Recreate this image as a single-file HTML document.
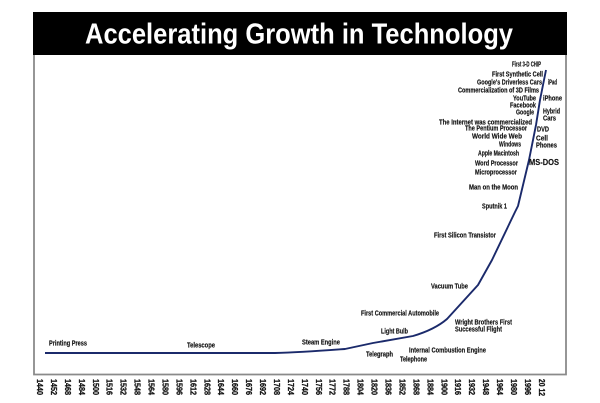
<!DOCTYPE html>
<html>
<head>
<meta charset="utf-8">
<style>
html,body{margin:0;padding:0;background:#fff;}
svg{display:block;}
text{font-family:"Liberation Sans",sans-serif;}
.l{font-size:7px;font-weight:bold;fill:#111;stroke:#111;stroke-width:0.15;}
.t{font-size:8.5px;font-weight:bold;fill:#111;stroke:#111;stroke-width:0.3;}
</style>
</head>
<body>
<svg width="600" height="403" viewBox="0 0 600 403" xmlns="http://www.w3.org/2000/svg">
<rect x="0" y="0" width="600" height="403" fill="#fff"/>
<!-- title bar -->
<rect x="33" y="12" width="534" height="43" fill="#000"/>
<text x="85" y="43.5" font-size="29" font-weight="bold" fill="#fff" textLength="428" lengthAdjust="spacingAndGlyphs">Accelerating Growth in Technology</text>
<!-- frame -->
<path d="M34,55 L34,374.5 L566,374.5 L566,55" fill="none" stroke="#8a8a8a" stroke-width="1.8"/>
<!-- curve -->
<path d="M45,353 L275,353 C300,352.5 325,350.5 345,349 L373,343 L413,336 C430,331 440,325 447,319 L478,285 L492,260 L515,212 L518,206 L529,160 L536,125 L540,100 L546,70" fill="none" stroke="#1b2a6b" stroke-width="1.9" stroke-linejoin="round"/>
<!-- labels -->
<g class="l">
<text x="49" y="345.5" textLength="38" lengthAdjust="spacingAndGlyphs">Printing Press</text>
<text x="187" y="347.5" textLength="28" lengthAdjust="spacingAndGlyphs">Telescope</text>
<text x="302" y="344.5" textLength="38" lengthAdjust="spacingAndGlyphs">Steam Engine</text>
<text x="366" y="356.5" textLength="27" lengthAdjust="spacingAndGlyphs">Telegraph</text>
<text x="400" y="361.5" textLength="27" lengthAdjust="spacingAndGlyphs">Telephone</text>
<text x="409" y="352.5" textLength="77" lengthAdjust="spacingAndGlyphs">Internal Combustion Engine</text>
<text x="381" y="333.5" textLength="27" lengthAdjust="spacingAndGlyphs">Light Bulb</text>
<text x="361" y="315.5" textLength="78" lengthAdjust="spacingAndGlyphs">First Commercial Automobile</text>
<text x="455" y="324.5" textLength="57" lengthAdjust="spacingAndGlyphs">Wright Brothers First</text>
<text x="455" y="331.5" textLength="47" lengthAdjust="spacingAndGlyphs">Successful Flight</text>
<text x="431" y="288.5" textLength="37" lengthAdjust="spacingAndGlyphs">Vacuum Tube</text>
<text x="434" y="237.5" textLength="62" lengthAdjust="spacingAndGlyphs">First Silicon Transistor</text>
<text x="482" y="208.5" textLength="25" lengthAdjust="spacingAndGlyphs">Sputnik 1</text>
<text x="469" y="189.5" textLength="49" lengthAdjust="spacingAndGlyphs">Man on the Moon</text>
<text x="475" y="174.5" textLength="42" lengthAdjust="spacingAndGlyphs">Microprocessor</text>
<text x="475" y="165.5" textLength="43" lengthAdjust="spacingAndGlyphs">Word Processor</text>
<text x="529" y="165" font-size="8.5" textLength="30" lengthAdjust="spacingAndGlyphs">MS-DOS</text>
<text x="478" y="155.5" textLength="41" lengthAdjust="spacingAndGlyphs">Apple Macintosh</text>
<text x="499" y="146.5" textLength="22" lengthAdjust="spacingAndGlyphs">Windows</text>
<text x="536" y="140.5" textLength="12" lengthAdjust="spacingAndGlyphs">Cell</text>
<text x="536" y="147.5" textLength="21" lengthAdjust="spacingAndGlyphs">Phones</text>
<text x="472" y="138.5" textLength="50" lengthAdjust="spacingAndGlyphs">World Wide Web</text>
<text x="465" y="130.5" textLength="62" lengthAdjust="spacingAndGlyphs">The Pentium Processor</text>
<text x="537" y="131.5" textLength="12" lengthAdjust="spacingAndGlyphs">DVD</text>
<text x="439" y="124.5" textLength="93" lengthAdjust="spacingAndGlyphs">The Internet was commercialized</text>
<text x="516" y="114.5" textLength="18" lengthAdjust="spacingAndGlyphs">Google</text>
<text x="543" y="113.5" textLength="17" lengthAdjust="spacingAndGlyphs">Hybrid</text>
<text x="543" y="120.5" textLength="13" lengthAdjust="spacingAndGlyphs">Cars</text>
<text x="510" y="107.5" textLength="26" lengthAdjust="spacingAndGlyphs">Facebook</text>
<text x="513" y="100.5" textLength="23" lengthAdjust="spacingAndGlyphs">YouTube</text>
<text x="543" y="100.5" textLength="19" lengthAdjust="spacingAndGlyphs">iPhone</text>
<text x="458" y="92.5" textLength="81" lengthAdjust="spacingAndGlyphs">Commercialization of 3D Films</text>
<text x="477" y="84.5" textLength="65" lengthAdjust="spacingAndGlyphs">Google's Driverless Cars</text>
<text x="548" y="84.5" textLength="9" lengthAdjust="spacingAndGlyphs">iPad</text>
<text x="492" y="76.5" textLength="51" lengthAdjust="spacingAndGlyphs">First Synthetic Cell</text>
<text x="512" y="66.5" textLength="29" lengthAdjust="spacingAndGlyphs">First 3-D CHIP</text>
</g>
<!-- tick labels -->
<g class="t">
<text transform="translate(37,379) rotate(90)" textLength="16" lengthAdjust="spacingAndGlyphs">1440</text>
<text transform="translate(50.9,379) rotate(90)" textLength="16" lengthAdjust="spacingAndGlyphs">1452</text>
<text transform="translate(64.9,379) rotate(90)" textLength="16" lengthAdjust="spacingAndGlyphs">1468</text>
<text transform="translate(78.8,379) rotate(90)" textLength="16" lengthAdjust="spacingAndGlyphs">1484</text>
<text transform="translate(92.8,379) rotate(90)" textLength="16" lengthAdjust="spacingAndGlyphs">1500</text>
<text transform="translate(106.7,379) rotate(90)" textLength="16" lengthAdjust="spacingAndGlyphs">1516</text>
<text transform="translate(120.6,379) rotate(90)" textLength="16" lengthAdjust="spacingAndGlyphs">1532</text>
<text transform="translate(134.6,379) rotate(90)" textLength="16" lengthAdjust="spacingAndGlyphs">1548</text>
<text transform="translate(148.5,379) rotate(90)" textLength="16" lengthAdjust="spacingAndGlyphs">1564</text>
<text transform="translate(162.5,379) rotate(90)" textLength="16" lengthAdjust="spacingAndGlyphs">1580</text>
<text transform="translate(176.4,379) rotate(90)" textLength="16" lengthAdjust="spacingAndGlyphs">1596</text>
<text transform="translate(190.3,379) rotate(90)" textLength="16" lengthAdjust="spacingAndGlyphs">1612</text>
<text transform="translate(204.3,379) rotate(90)" textLength="16" lengthAdjust="spacingAndGlyphs">1628</text>
<text transform="translate(218.2,379) rotate(90)" textLength="16" lengthAdjust="spacingAndGlyphs">1644</text>
<text transform="translate(232.2,379) rotate(90)" textLength="16" lengthAdjust="spacingAndGlyphs">1660</text>
<text transform="translate(246.1,379) rotate(90)" textLength="16" lengthAdjust="spacingAndGlyphs">1676</text>
<text transform="translate(260,379) rotate(90)" textLength="16" lengthAdjust="spacingAndGlyphs">1692</text>
<text transform="translate(274,379) rotate(90)" textLength="16" lengthAdjust="spacingAndGlyphs">1708</text>
<text transform="translate(287.9,379) rotate(90)" textLength="16" lengthAdjust="spacingAndGlyphs">1724</text>
<text transform="translate(301.9,379) rotate(90)" textLength="16" lengthAdjust="spacingAndGlyphs">1740</text>
<text transform="translate(315.8,379) rotate(90)" textLength="16" lengthAdjust="spacingAndGlyphs">1756</text>
<text transform="translate(329.7,379) rotate(90)" textLength="16" lengthAdjust="spacingAndGlyphs">1772</text>
<text transform="translate(343.7,379) rotate(90)" textLength="16" lengthAdjust="spacingAndGlyphs">1788</text>
<text transform="translate(357.6,379) rotate(90)" textLength="16" lengthAdjust="spacingAndGlyphs">1804</text>
<text transform="translate(371.6,379) rotate(90)" textLength="16" lengthAdjust="spacingAndGlyphs">1820</text>
<text transform="translate(385.5,379) rotate(90)" textLength="16" lengthAdjust="spacingAndGlyphs">1836</text>
<text transform="translate(399.4,379) rotate(90)" textLength="16" lengthAdjust="spacingAndGlyphs">1852</text>
<text transform="translate(413.4,379) rotate(90)" textLength="16" lengthAdjust="spacingAndGlyphs">1868</text>
<text transform="translate(427.3,379) rotate(90)" textLength="16" lengthAdjust="spacingAndGlyphs">1884</text>
<text transform="translate(441.3,379) rotate(90)" textLength="16" lengthAdjust="spacingAndGlyphs">1900</text>
<text transform="translate(455.2,379) rotate(90)" textLength="16" lengthAdjust="spacingAndGlyphs">1916</text>
<text transform="translate(469.1,379) rotate(90)" textLength="16" lengthAdjust="spacingAndGlyphs">1932</text>
<text transform="translate(483.1,379) rotate(90)" textLength="16" lengthAdjust="spacingAndGlyphs">1948</text>
<text transform="translate(497,379) rotate(90)" textLength="16" lengthAdjust="spacingAndGlyphs">1964</text>
<text transform="translate(511,379) rotate(90)" textLength="16" lengthAdjust="spacingAndGlyphs">1980</text>
<text transform="translate(524.9,379) rotate(90)" textLength="16" lengthAdjust="spacingAndGlyphs">1996</text>
<text transform="translate(538.8,379) rotate(90)" textLength="17" lengthAdjust="spacingAndGlyphs">20 12</text>
</g>
</svg>
</body>
</html>
